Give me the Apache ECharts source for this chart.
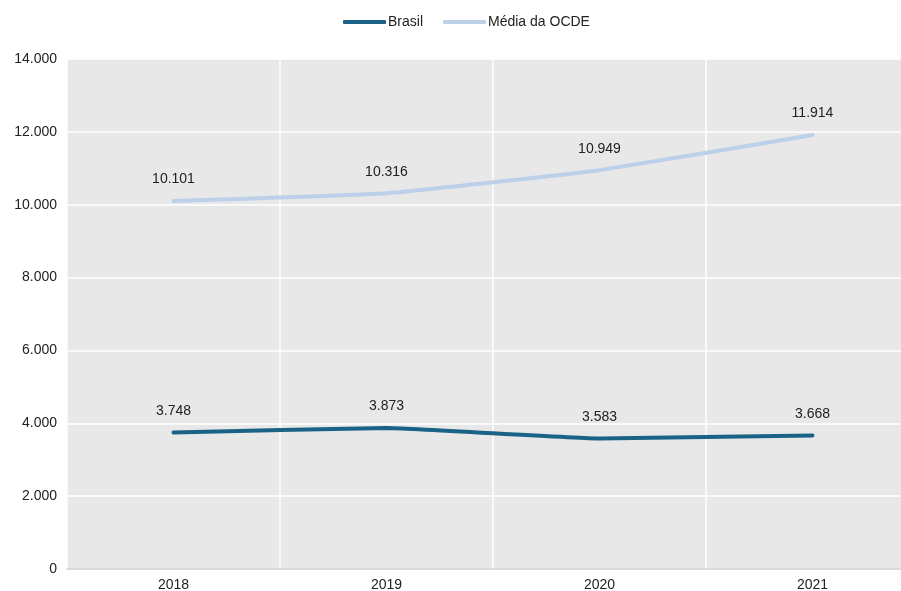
<!DOCTYPE html>
<html><head><meta charset="utf-8">
<script src="https://cdn.jsdelivr.net/npm/echarts@6/dist/echarts.min.js"></script>
<style>html,body{margin:0;padding:0;background:#fff}#c{width:901px;height:591px}</style>
</head><body><div id="c"></div>
<script>
const categories = ['2018', '2019', '2020', '2021'];
const brasil = [3748, 3873, 3583, 3668];
const ocde = [10101, 10316, 10949, 11914];
const seriesNames = ['Brasil', 'Média da OCDE'];
const yTicks = { min: 0, max: 14000, interval: 2000 };

const fmt = v => Math.round(v).toString().replace(/\B(?=(\d{3})+(?!\d))/g, '.');
const font = '"Liberation Sans", Arial, sans-serif';
const chart = echarts.init(document.getElementById('c'), null, { renderer: 'canvas' });
const labelCfg = {
  show: true, position: 'top', distance: 13, color: '#222', fontSize: 14, fontFamily: font,
  formatter: p => fmt(p.value)
};
chart.setOption({
  animation: false,
  legend: {
    top: 10, left: 338, itemWidth: 43, itemHeight: 4, itemGap: 20,
    icon: 'roundRect',
    textStyle: { color: '#222', fontSize: 14, fontFamily: font, padding: [0, 0, 0, -3] },
    data: seriesNames
  },
  grid: {
    left: 67, width: 852, top: 59, height: 510, show: true,
    outerBoundsMode: 'none', containLabel: false,
    backgroundColor: '#e8e8e8', borderWidth: 0
  },
  xAxis: {
    type: 'category', data: categories, boundaryGap: true,
    axisLine: { show: true, lineStyle: { color: '#cfcfcf', width: 1.5 } },
    axisTick: { show: false },
    axisLabel: { color: '#222', fontSize: 14, fontFamily: font, margin: 9 },
    splitLine: { show: true, lineStyle: { color: '#ffffff', width: 1.5 } }
  },
  yAxis: {
    type: 'value', min: yTicks.min, max: yTicks.max, interval: yTicks.interval,
    axisLine: { show: false }, axisTick: { show: false },
    axisLabel: { color: '#222', fontSize: 14, fontFamily: font, margin: 10, formatter: v => fmt(v) },
    splitLine: { show: true, lineStyle: { color: '#ffffff', width: 1.5 } }
  },
  series: [
    {
      name: seriesNames[0], type: 'line', data: brasil, smooth: 0.1,
      symbol: 'circle', symbolSize: 3, showSymbol: true,
      itemStyle: { color: '#1b6386', borderWidth: 0 },
      color: '#1b6386',
      lineStyle: { width: 4, color: '#1b6386', cap: 'round' },
      label: labelCfg
    },
    {
      name: seriesNames[1], type: 'line', data: ocde, smooth: 0.1,
      symbol: 'circle', symbolSize: 3, showSymbol: true,
      itemStyle: { color: '#bcd0ea', borderWidth: 0 },
      color: '#bcd0ea',
      lineStyle: { width: 4, color: '#bcd0ea', cap: 'round' },
      label: labelCfg
    }
  ]
});
</script></body></html>
